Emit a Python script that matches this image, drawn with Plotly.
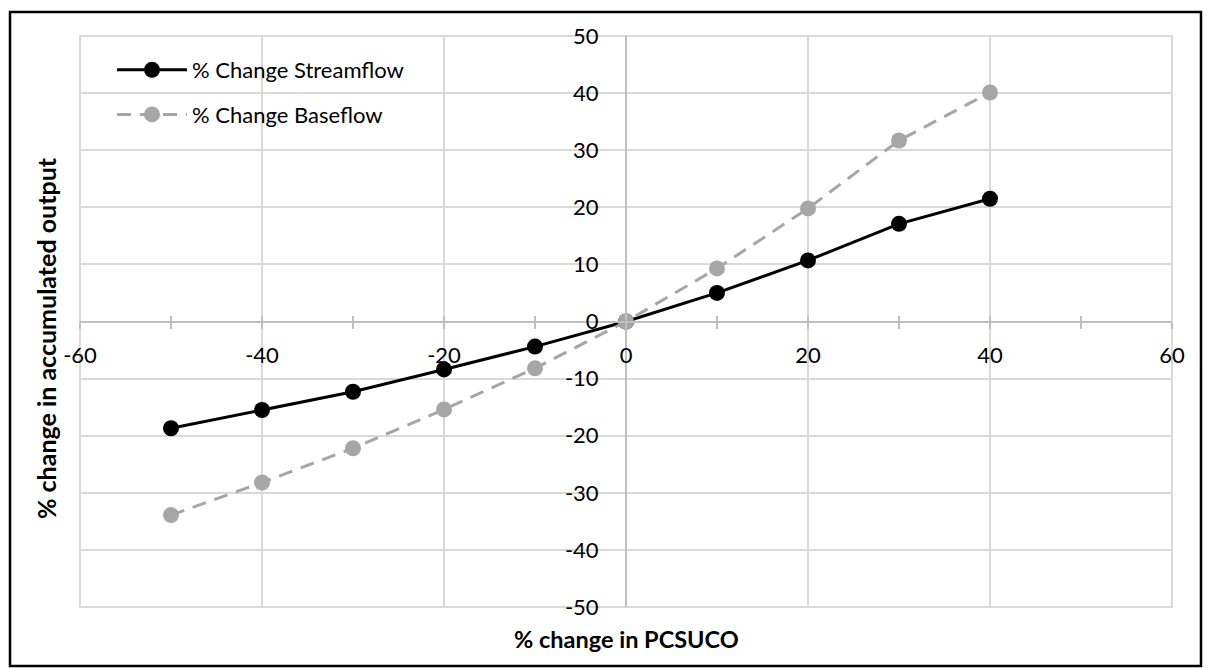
import plotly.graph_objects as go

# ---- data ----
pct_change_pcsuco = [-50, -40, -30, -20, -10, 0, 10, 20, 30, 40]
streamflow_change = [-18.7, -15.5, -12.3, -8.4, -4.4, 0.0, 5.0, 10.7, 17.1, 21.5]
baseflow_change = [-33.9, -28.2, -22.2, -15.4, -8.2, 0.0, 9.3, 19.8, 31.7, 40.1]

x_range = [-60, 60]
y_range = [-50, 50]
x_tick_vals = [-60, -40, -20, 0, 20, 40, 60]
x_tick_text = ["-60", "-40", "-20", "0", "20", "40", "60"]
y_tick_vals = [-50, -40, -30, -20, -10, 0, 10, 20, 30, 40, 50]
y_tick_text = ["-50", "-40", "-30", "-20", "-10", "0", "10", "20", "30", "40", "50"]

series_names = ["% Change Streamflow", "% Change Baseflow"]
x_title = "% change in PCSUCO"
y_title = "% change in accumulated output"

FONT = "Lato, Calibri, Arial, sans-serif"
W, H = 1208, 668
L, R, T, B = 80, 36, 36, 61
pw, ph = W - L - R, H - T - B


def px_x(px):
    return (px - L) / pw


def px_y(py):
    return 1 - (py - T) / ph


fig = go.Figure()

fig.add_trace(go.Scatter(
    x=pct_change_pcsuco, y=streamflow_change, name=series_names[0],
    mode="lines+markers", legendgroup="a",
    line=dict(color="#000000", width=3),
    marker=dict(color="#000000", size=16),
    xaxis="x", yaxis="y",
))
fig.add_trace(go.Scatter(
    x=pct_change_pcsuco, y=baseflow_change, name=series_names[1],
    mode="lines+markers", legendgroup="b",
    line=dict(color="#a6a6a6", width=3, dash="14px,9px"),
    marker=dict(color="#a6a6a6", size=16),
    xaxis="x2", yaxis="y",
))

grid_col = "#d9d9d9"
axis_col = "#bfbfbf"
TICK_SIZE = 22

fig.update_layout(
    width=W, height=H,
    margin=dict(l=L, r=R, t=T, b=B, pad=0),
    paper_bgcolor="white", plot_bgcolor="white",
    font=dict(family=FONT, size=TICK_SIZE, color="#000000"),
    showlegend=True,
    legend=dict(
        x=px_x(112), y=px_y(49), xanchor="left", yanchor="top",
        bgcolor="rgba(0,0,0,0)", font=dict(family=FONT, size=TICK_SIZE, color="#000000"),
        tracegroupgap=13, itemwidth=70,
    ),
    xaxis=dict(
        range=x_range, anchor="free", position=0.5,
        tickmode="array", tickvals=x_tick_vals, ticktext=x_tick_text,
        showgrid=True, gridcolor=grid_col, gridwidth=2,
        zeroline=False, showline=True, linecolor=axis_col, linewidth=2,
        ticks="outside", ticklen=6, tickwidth=2, tickcolor=axis_col,
        minor=dict(dtick=10, tick0=0, ticks="outside", ticklen=6, tickwidth=2,
                   tickcolor=axis_col, showgrid=False),
        ticklabelstandoff=8,
        tickfont=dict(family=FONT, size=TICK_SIZE, color="#000000"),
        fixedrange=True,
    ),
    xaxis2=dict(
        range=x_range, overlaying="x", anchor="free", position=0.5,
        showgrid=False, zeroline=False, showline=False, showticklabels=False,
        tickmode="linear", tick0=0, dtick=10,
        ticks="inside", ticklen=6, tickwidth=2, tickcolor=axis_col,
        fixedrange=True,
    ),
    yaxis=dict(
        range=y_range, anchor="free", position=0.5,
        tickmode="array", tickvals=y_tick_vals, ticktext=y_tick_text,
        showgrid=True, gridcolor=grid_col, gridwidth=2,
        zeroline=False, showline=True, linecolor=axis_col, linewidth=2,
        ticks="", ticklabelstandoff=22,
        tickfont=dict(family=FONT, size=TICK_SIZE, color="#000000"),
        fixedrange=True,
    ),
    annotations=[
        dict(text="<b>" + x_title + "</b>", xref="paper", yref="paper",
             x=0.5, y=px_y(639), xanchor="center", yanchor="middle",
             showarrow=False, font=dict(family=FONT, size=23.5, color="#000000")),
        dict(text="<b>" + y_title + "</b>", xref="paper", yref="paper",
             x=px_x(46), y=px_y(338), xanchor="center", yanchor="middle",
             textangle=-90, showarrow=False,
             font=dict(family=FONT, size=25, color="#000000")),
    ],
    shapes=[
        dict(type="rect", xref="paper", yref="paper",
             x0=px_x(10), x1=px_x(1201), y0=px_y(12), y1=px_y(666),
             line=dict(color="#000000", width=2.5), fillcolor="rgba(0,0,0,0)",
             layer="below"),
        dict(type="rect", xref="paper", yref="paper",
             x0=0, x1=1, y0=0, y1=1,
             line=dict(color=grid_col, width=2), fillcolor="rgba(0,0,0,0)",
             layer="below"),
    ],
)

fig.write_html("out.html", config={"displayModeBar": False},
               post_script="document.body.style.margin='0';")
